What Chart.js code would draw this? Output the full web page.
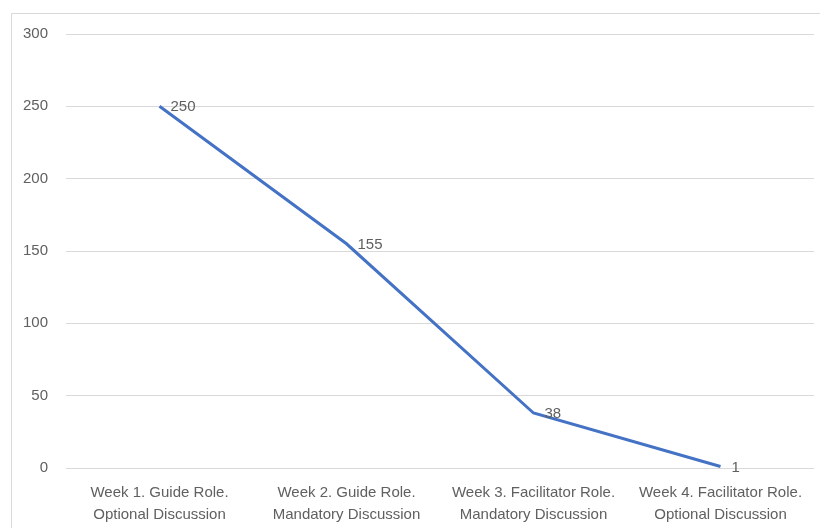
<!DOCTYPE html>
<html>
<head>
<meta charset="utf-8">
<script src="https://cdn.jsdelivr.net/npm/chart.js@4"></script>
<style>
html,body{margin:0;padding:0;background:#fff;}
#wrap{width:820px;height:528px;position:relative;}
</style>
</head>
<body>
<div id="wrap"><canvas id="c" width="820" height="528"></canvas></div>
<script>
const categories = [
  ["Week 1. Guide Role.", "Optional Discussion"],
  ["Week 2. Guide Role.", "Mandatory Discussion"],
  ["Week 3. Facilitator Role.", "Mandatory Discussion"],
  ["Week 4. Facilitator Role.", "Optional Discussion"]
];
const values = [250, 155, 38, 1];
const yTicks = [0, 50, 100, 150, 200, 250, 300];

const FONT = "'Liberation Sans', Arial, sans-serif";
const TXT = '#606060';

const borderPlugin = {
  id: 'frame',
  beforeDraw(chart) {
    const ctx = chart.ctx;
    ctx.save();
    ctx.fillStyle = '#fff';
    ctx.fillRect(0, 0, chart.width, chart.height);
    ctx.strokeStyle = '#d9d9d9';
    ctx.lineWidth = 1;
    ctx.beginPath();
    ctx.moveTo(11.5, chart.height);
    ctx.lineTo(11.5, 13.5);
    ctx.lineTo(chart.width, 13.5);
    ctx.stroke();
    ctx.restore();
  }
};

const labelPlugin = {
  id: 'dataLabels',
  afterDatasetsDraw(chart) {
    const ctx = chart.ctx;
    const meta = chart.getDatasetMeta(0);
    ctx.save();
    ctx.font = '15px ' + FONT;
    ctx.fillStyle = TXT;
    ctx.textAlign = 'left';
    ctx.textBaseline = 'middle';
    meta.data.forEach((pt, i) => {
      ctx.fillText(String(values[i]), pt.x + 11, pt.y + 1);
    });
    ctx.restore();
  }
};

new Chart(document.getElementById('c'), {
  type: 'line',
  data: {
    labels: categories,
    datasets: [{
      data: values,
      borderColor: '#4472C4',
      borderWidth: 3,
      pointRadius: 0,
      fill: false,
      tension: 0
    }]
  },
  options: {
    responsive: false,
    animation: false,
    layout: { padding: { top: 34, right: 6, left: 0, bottom: 0 } },
    plugins: { legend: { display: false }, tooltip: { enabled: false } },
    scales: {
      x: {
        offset: true,
        grid: { display: false, drawTicks: false },
        border: { display: false },
        ticks: { color: TXT, font: { family: FONT, size: 15, lineHeight: 1.45 }, padding: 14, maxRotation: 0, autoSkip: false },
        afterFit(s) { s.height = 60; }
      },
      y: {
        min: 0, max: 300,
        afterBuildTicks(s) { s.ticks = yTicks.map(v => ({ value: v })); },
        grid: { color: '#d9d9d9', drawTicks: false, lineWidth: 1 },
        border: { display: false },
        ticks: { color: TXT, font: { family: FONT, size: 15 }, padding: 18 },
        afterFit(s) { s.width = 66; }
      }
    }
  },
  plugins: [borderPlugin, labelPlugin]
});
</script>
</body>
</html>
